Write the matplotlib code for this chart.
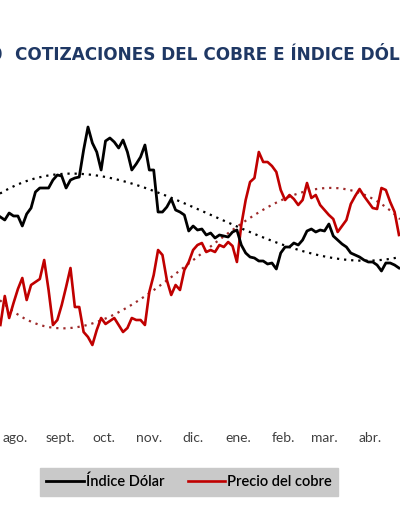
import numpy as np
import pandas as pd
import matplotlib
matplotlib.use("Agg")
import matplotlib.pyplot as plt
import matplotlib.dates as mdates

# data, one value every 3 days starting 22 Jul
start_date = "2016-07-22"
dolar = [96.65, 96.5, 96.85, 96.7, 96.7, 96.2, 96.8, 97.1, 97.9, 98.1,
         98.1, 98.1, 98.5, 98.75, 98.7, 98.1, 98.5, 98.6, 98.65, 100.0,
         101.15, 100.35, 99.9, 99.0, 100.45, 100.6, 100.4, 100.1, 100.5, 99.9,
         99.0, 99.3, 99.65, 100.25, 99.0, 99.0, 96.9, 96.9, 97.15, 97.55,
         97.0, 96.9, 96.75, 95.95, 96.2, 96.0, 96.05, 95.75, 95.85, 95.6,
         95.75, 95.7, 95.65, 95.9, 96.0, 95.25, 94.85, 94.65, 94.6, 94.45,
         94.45, 94.3, 94.35, 94.05, 94.85, 95.15, 95.15, 95.35, 95.25, 95.5,
         95.95, 96.05, 95.9, 96.0, 95.95, 96.3, 95.7, 95.5, 95.3, 95.15,
         94.85, 94.75, 94.65, 94.5, 94.4, 94.4, 94.25, 93.95, 94.35, 94.35,
         94.25, 94.1]
cobre = [2.625, 2.77, 2.66, 2.735, 2.805, 2.86, 2.75, 2.825, 2.84, 2.855,
         2.95, 2.80, 2.625, 2.65, 2.725, 2.815, 2.91, 2.715, 2.715, 2.59,
         2.565, 2.525, 2.60, 2.66, 2.63, 2.645, 2.66, 2.625, 2.59, 2.61,
         2.66, 2.65, 2.65, 2.625, 2.79, 2.875, 3.0, 2.975, 2.85, 2.775,
         2.825, 2.80, 2.90, 2.94, 3.0, 3.025, 3.035, 2.99, 3.0, 2.99,
         3.025, 3.015, 3.04, 3.02, 2.94, 3.125, 3.25, 3.34, 3.36, 3.49,
         3.44, 3.44, 3.42, 3.39, 3.30, 3.25, 3.275, 3.255, 3.225, 3.25,
         3.335, 3.26, 3.275, 3.225, 3.20, 3.175, 3.155, 3.09, 3.12, 3.15,
         3.23, 3.27, 3.305, 3.27, 3.24, 3.21, 3.205, 3.31, 3.30, 3.24,
         3.19, 3.075]

# trend lines (the full series behind them is outside the picture)
trend_dolar_fechas = ["2016-07-22", "2016-08-18", "2016-09-14", "2016-10-12",
                      "2016-11-01", "2016-12-05", "2016-12-28", "2017-01-20",
                      "2017-02-12", "2017-03-07", "2017-03-30", "2017-04-21"]
trend_dolar = [97.9, 98.5, 98.8, 98.6, 98.1, 96.95, 96.25, 95.5, 95.0, 94.65, 94.5, 94.6]
trend_cobre_fechas = ["2016-07-22", "2016-07-30", "2016-08-13", "2016-08-27",
                      "2016-09-16", "2016-09-28", "2016-10-21", "2016-11-13",
                      "2016-12-05", "2017-01-04", "2017-01-29", "2017-02-24",
                      "2017-03-18", "2017-04-21"]
trend_cobre = [2.735, 2.70, 2.65, 2.62, 2.625, 2.64, 2.71, 2.835, 2.99, 3.15,
               3.24, 3.31, 3.285, 3.165]

meses = ["ago.", "sept.", "oct.", "nov.", "dic.", "ene.", "feb.", "mar.", "abr."]
titulo = "COTIZACIONES DEL COBRE E ÍNDICE DÓLAR"

fechas = pd.date_range(start_date, periods=len(dolar), freq="3D")
ticks = pd.date_range("2016-08-01", periods=len(meses), freq="MS")
x = mdates.date2num(fechas)

aug1 = mdates.date2num(pd.Timestamp("2016-08-01"))
x0, x1 = aug1 - 10.27, aug1 + 263.7
xf = np.linspace(x0, x1, 300)

fig = plt.figure(figsize=(4.0, 5.09), dpi=100)
ax = fig.add_axes([0, 1 - 425 / 509, 1, 330 / 509])
ax2 = ax.twinx()

# smooth polynomial trend like Excel's
td = mdates.date2num(pd.to_datetime(trend_dolar_fechas)) - aug1
tc = mdates.date2num(pd.to_datetime(trend_cobre_fechas)) - aug1
p_d = np.polyfit(td, trend_dolar, 4)
p_c = np.polyfit(tc, trend_cobre, 4)
ax.plot(xf, np.polyval(p_d, xf - aug1), color="black", lw=1.6,
        linestyle=(0, (1, 2.2)), zorder=2)
ax2.plot(xf, np.polyval(p_c, xf - aug1), color="#9E2A2A", lw=1.6,
         linestyle=(0, (1, 2.2)), zorder=2)

ax.plot(x, dolar, color="black", lw=2.0, zorder=3)
ax2.plot(x, cobre, color="#C00000", lw=1.9, zorder=3)

ax.set_xlim(x0, x1)
ax.set_ylim(86.25, 102.75)
ax2.set_ylim(2.125, 3.775)
ax.set_xticks(mdates.date2num(ticks))
ax.set_xticklabels(meses, fontsize=10, color="#404040", family="Lato")
ax.tick_params(axis="x", length=0, pad=5)
ax.set_yticks([])
ax2.set_yticks([])
for a in (ax, ax2):
    for s in a.spines.values():
        s.set_visible(False)
ax.set_zorder(ax2.get_zorder() + 1)
ax.patch.set_visible(False)

fig.text(15 / 400, 1 - 55 / 509, titulo, ha="left", va="center",
         fontsize=12.2, fontweight="bold", color="#1F3864", family="DejaVu Sans")
fig.text(2 / 400, 1 - 55 / 509, "10", ha="right", va="center",
         fontsize=12.2, fontweight="bold", color="#1F3864", family="DejaVu Sans")

leg = fig.legend(handles=ax.get_lines()[1:] + ax2.get_lines()[1:],
                 labels=["Índice Dólar", "Precio del cobre"],
                 loc="center", bbox_to_anchor=(189 / 400, 1 - 482 / 509),
                 ncol=2, frameon=True, fancybox=False,
                 handlelength=2.6, handletextpad=0.1, columnspacing=1.6,
                 borderpad=0.45, prop={"family": "Lato", "size": 10.5, "weight": "semibold"})
leg.get_frame().set_facecolor("#C9C9C9")
leg.get_frame().set_edgecolor("#C9C9C9")
leg.get_frame().set_alpha(1)

fig.savefig("out.png", dpi=100)
